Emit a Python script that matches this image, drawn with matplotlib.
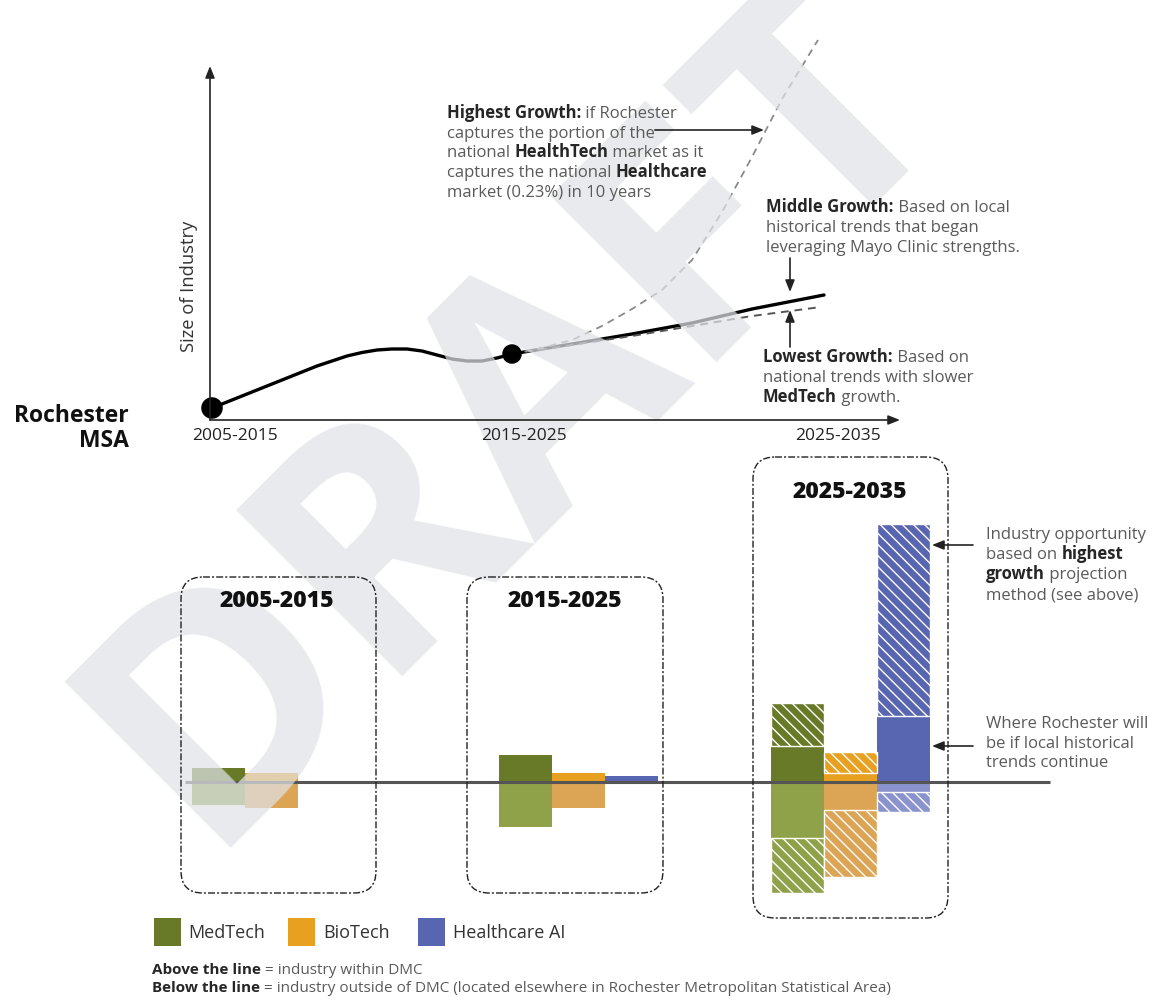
import numpy as np
import matplotlib.pyplot as plt
from matplotlib.patches import FancyBboxPatch, Rectangle

plt.rcParams['font.family'] = ['Open Sans', 'DejaVu Sans']
plt.rcParams['hatch.linewidth'] = 1.0

# 图像尺寸 (像素)
W, H = 1162, 1000

# ---- 上图: 产业规模曲线 ----
hist_years = [2005, 2005.5, 2006, 2006.5, 2007, 2007.5, 2008, 2008.5, 2009, 2009.5, 2010,
              2010.5, 2011, 2011.5, 2012, 2012.5, 2013, 2013.5, 2014, 2014.5, 2015]
hist_size = [1.2, 1.8, 2.4, 3.0, 3.6, 4.2, 4.8, 5.4, 5.9, 6.4, 6.75,
             7.0, 7.1, 7.1, 6.9, 6.5, 6.1, 5.9, 5.9, 6.2, 6.6]
mid_years = [2015, 2017, 2019, 2021, 2023, 2025.4]
mid_size = [6.6, 7.6, 8.6, 9.7, 11.1, 12.5]
low_years = [2015, 2017, 2019, 2021, 2023, 2025.3]
low_size = [6.6, 7.5, 8.4, 9.4, 10.4, 11.3]
high_years = [2015, 2016, 2017, 2018, 2019, 2020, 2021, 2022, 2023, 2024, 2025.2]
high_size = [6.6, 7.2, 8.0, 9.4, 11.1, 13.0, 16.0, 20.8, 26.3, 32.1, 38.0]
dot_years = [2005, 2015]
dot_size = [1.2, 6.6]
period_labels = ['2005-2015', '2015-2025', '2025-2035']

# ---- 下图: 各产业柱 ----
industries = ['MedTech', 'BioTech', 'Healthcare AI']
# 线上 (DMC内) / 线下 (DMC外), 按历史趋势
above_local = [[1.4, 0.9, 0.0], [2.7, 0.9, 0.6], [3.6, 0.9, 6.6]]
below_local = [[2.3, 2.6, 0.0], [4.5, 2.6, 0.1], [5.6, 2.8, 1.0]]
# 2025-2035 最高增长额外部分 (斜线)
above_extra = [4.3, 2.1, 19.2]
below_extra = [5.5, 6.7, 2.0]

dark = ['#687a28', '#e8a020', '#5865b0']
light = ['#8fa24a', '#dca555', '#8b93cf']

fig = plt.figure(figsize=(W / 100, H / 100), dpi=100)


def rect(x0, y0, x1, y1):
    return [x0 / W, 1 - y1 / H, (x1 - x0) / W, (y1 - y0) / H]


# 上图坐标轴
top_rect = rect(200, 30, 902, 420)
ax_top = fig.add_axes(top_rect, zorder=0)
ax_top.set_xlim(2005 - 12 / 30, 2028)
ax_top.set_ylim(0, 39)
ax_top.axis('off')
ax_top.plot(hist_years, hist_size, color='k', lw=2.4, solid_capstyle='round')
ax_top.plot(mid_years, mid_size, color='k', lw=2.4, solid_capstyle='round')
ax_top.plot(low_years, low_size, color='#555555', lw=1.4, dashes=(4, 3))
ax_top.plot(high_years, high_size, color='#8a8a8a', lw=1.3, dashes=(4, 3), clip_on=False)

ax_dots = fig.add_axes(top_rect, zorder=2)
ax_dots.set_xlim(ax_top.get_xlim())
ax_dots.set_ylim(ax_top.get_ylim())
ax_dots.axis('off')
ax_dots.scatter(dot_years, dot_size, s=[210, 170], color='k', zorder=5)

# 下图柱子
ax_bar = fig.add_axes(rect(0, 440, W, 930), zorder=0)
ax_bar.set_xlim(0, W)
ax_bar.set_ylim(-(930 - 782) / 10, (782 - 440) / 10)
ax_bar.axis('off')
group_x = [271, 578, 850]
bw = 53
for p in range(3):
    for i in range(3):
        x = group_x[p] + (i - 1) * bw
        ax_bar.bar(x, above_local[p][i], width=bw, color=dark[i], lw=0)
        ax_bar.bar(x, -below_local[p][i], width=bw, color=light[i], lw=0)
for i in range(3):
    x = group_x[2] + (i - 1) * bw
    ax_bar.bar(x, above_extra[i], bottom=above_local[2][i], width=bw, color=dark[i],
               hatch='\\\\\\', edgecolor='white', lw=1)
    ax_bar.bar(x, -below_extra[i], bottom=-below_local[2][i], width=bw, color=light[i],
               hatch='\\\\\\', edgecolor='white', lw=1)
ax_bar.hlines(0, 185, 1050, color='#555555', lw=2.2, zorder=5)

# 水印
fig.text(201.5 / W, 1 - 847.5 / H, 'DRAFT', rotation=45, rotation_mode='anchor', ha='left',
         va='baseline', fontsize=237, fontweight='bold', color='#dfe2e6', alpha=0.72, zorder=1)

# 文字层 (像素坐标)
ax_txt = fig.add_axes([0, 0, 1, 1], zorder=2)
ax_txt.set_xlim(0, W)
ax_txt.set_ylim(H, 0)
ax_txt.axis('off')
renderer = fig.canvas.get_renderer()

REG = '#5a5a5a'
BLD = '#262626'


def rich(x, y, parts, size=12):
    for s, b in parts:
        t = ax_txt.text(x, y, s, fontsize=size, fontweight='bold' if b else 'normal',
                        color=BLD if b else REG, va='baseline', ha='left')
        x += t.get_window_extent(renderer).width
    return x


def arrow(x0, y0, x1, y1):
    ax_txt.annotate('', xy=(x1, y1), xytext=(x0, y0),
                    arrowprops=dict(arrowstyle='-|>,head_length=0.7,head_width=0.28',
                                    color='#222222', lw=1.2, shrinkA=0, shrinkB=0))


# 坐标轴箭头
arrow(210, 420, 210, 66)
arrow(210, 420, 900, 420)
ax_txt.text(189, 286, 'Size of Industry', rotation=90, fontsize=13.2, color='#333333',
            ha='center', va='center')
for lab, x in zip(period_labels, [235, 524, 838]):
    ax_txt.text(x, 440, lab, fontsize=12.5, color='#222222', ha='center', va='baseline')
ax_txt.text(129, 422, 'Rochester', fontsize=16.5, fontweight='bold', color='#111111',
            ha='right', va='baseline')
ax_txt.text(129, 447, 'MSA', fontsize=16.5, fontweight='bold', color='#111111',
            ha='right', va='baseline')

# 上图注释
rich(447, 118, [('Highest Growth:', True), (' if Rochester', False)])
xe = rich(447, 137.5, [('captures the portion of the', False)])
rich(447, 157, [('national ', False), ('HealthTech', True), (' market as it', False)])
rich(447, 177, [('captures the national ', False), ('Healthcare', True)])
rich(447, 197, [('market (0.23%) in 10 years', False)])
arrow(xe, 130, 764, 130)

rich(766, 212, [('Middle Growth:', True), (' Based on local', False)])
rich(766, 232, [('historical trends that began', False)])
rich(766, 252, [('leveraging Mayo Clinic strengths.', False)])
arrow(790, 258, 790, 292)

rich(763, 362, [('Lowest Growth:', True), (' Based on', False)])
rich(763, 382, [('national trends with slower', False)])
rich(763, 402, [('MedTech', True), (' growth.', False)])
arrow(790, 347, 790, 310)

# 虚线框
boxes = [(181, 577, 376, 893), (467, 577, 663, 893), (753, 457, 948, 918)]
title_pos = [(277, 607), (565, 607), (850, 498)]
for (x0, y0, x1, y1), (tx, ty), lab in zip(boxes, title_pos, period_labels):
    ax_txt.add_patch(FancyBboxPatch((x0, y0), x1 - x0, y1 - y0,
                                    boxstyle='round,pad=0,rounding_size=22',
                                    fill=False, ec='#222222', lw=1,
                                    linestyle=(0, (5, 1.5, 1.5, 1.5))))
    ax_txt.text(tx, ty, lab, fontsize=16.6, fontweight=800, color='#111111',
                ha='center', va='baseline')

# 右侧注释
rich(986, 539, [('Industry opportunity', False)])
rich(986, 559, [('based on ', False), ('highest', True)])
rich(986, 579, [('growth', True), (' projection', False)])
rich(986, 599, [('method (see above)', False)])
arrow(973, 545, 932, 545)
rich(986, 728, [('Where Rochester will', False)])
rich(986, 748, [('be if local historical', False)])
rich(986, 767, [('trends continue', False)])
arrow(973, 746, 932, 746)

# 图例
for i, (lab, sx, tx) in enumerate(zip(industries, [154, 288, 418], [188, 323, 453])):
    ax_txt.add_patch(Rectangle((sx, 918), 27, 28, color=dark[i], lw=0))
    ax_txt.text(tx, 938, lab, fontsize=13, color='#333333', va='baseline')

rich(152, 974, [('Above the line', True), (' = industry within DMC', False)], 11)
rich(152, 992, [('Below the line', True),
                (' = industry outside of DMC (located elsewhere in Rochester Metropolitan Statistical Area)', False)], 11)

fig.savefig('out.png', dpi=100)
